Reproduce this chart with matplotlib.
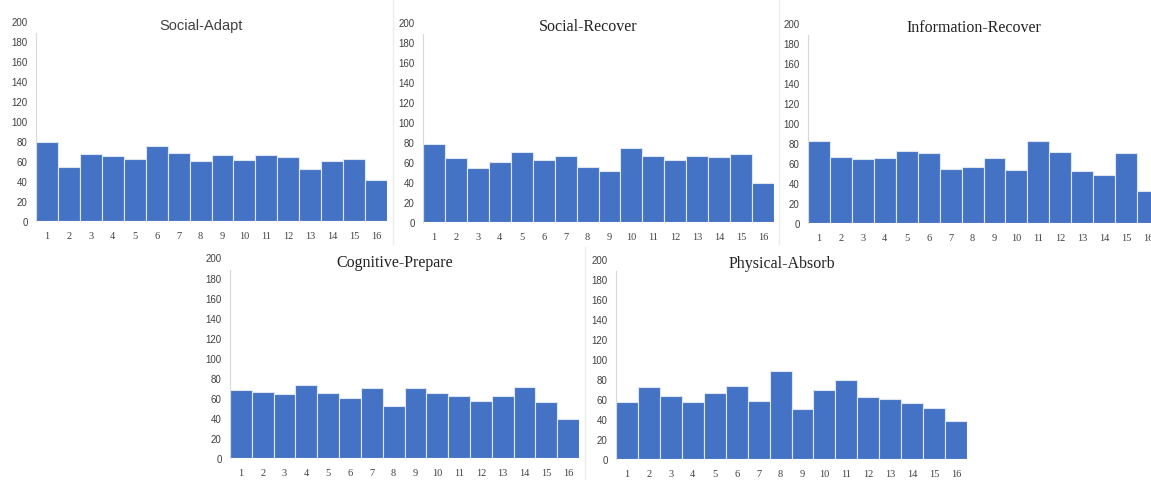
import numpy as np
import matplotlib
matplotlib.use('Agg')
import matplotlib.pyplot as plt
from matplotlib.lines import Line2D

# categories on the x axis
CATEGORIES = list(range(1, 17))

# bar heights
SOCIAL_ADAPT = [79, 54, 67, 65, 62, 75, 68, 60, 66, 61, 66, 64, 52, 60, 62, 41]
SOCIAL_RECOVER = [78, 64, 54, 60, 70, 62, 66, 55, 51, 74, 66, 62, 66, 65, 68, 39]
INFO_RECOVER = [82, 66, 64, 65, 72, 70, 54, 56, 65, 53, 82, 71, 52, 48, 70, 32]
COGNITIVE_PREPARE = [68, 66, 64, 73, 65, 60, 70, 52, 70, 65, 62, 57, 62, 71, 56, 39]
PHYSICAL_ABSORB = [57, 72, 63, 57, 66, 73, 58, 88, 50, 69, 79, 62, 60, 56, 51, 38]

TITLES = ['Social-Adapt', 'Social-Recover', 'Information-Recover',
          'Cognitive-Prepare', 'Physical-Absorb']
SERIES = [SOCIAL_ADAPT, SOCIAL_RECOVER, INFO_RECOVER,
          COGNITIVE_PREPARE, PHYSICAL_ABSORB]

BLUE = '#4472C4'
W, H = 1151, 481

# axes boxes in pixels: left, right, y of zero line
BOXES = [(36, 387, 222), (423, 774, 223), (808, 1159, 224),
         (230, 579, 459), (616, 967, 460)]


def px_box(left, right, y0):
    # convert pixel box to figure fractions, 200 units ~ 200 px
    return [left / W, 1 - y0 / H, (right - left) / W, 200.5 / H]


fig = plt.figure(figsize=(W / 100, H / 100), dpi=100)
fig.patch.set_facecolor('white')

# faint borders left over from the pasted chart images
for x in (393, 779):
    fig.add_artist(Line2D([x / W, x / W], [1 - 245 / H, 1], color='#ececec',
                          linewidth=1))
fig.add_artist(Line2D([585 / W, 585 / W], [0, 1 - 248 / H], color='#ececec',
                      linewidth=1))

for i, (title, vals) in enumerate(zip(TITLES, SERIES)):
    left, right, y0 = BOXES[i]
    ax = fig.add_axes(px_box(left, right, y0))
    ax.bar(CATEGORIES, vals, width=1.0, color=BLUE,
           edgecolor='#dfe6f3', linewidth=0.8)
    ax.set_xlim(0.5, 16.5)
    ax.set_ylim(0, 200)
    ax.set_yticks(np.arange(0, 201, 20))
    ax.set_xticks(CATEGORIES)
    ax.set_xticklabels([str(c) for c in CATEGORIES],
                       family='Liberation Serif', fontsize=7.5, color='#404040')
    for lab in ax.get_yticklabels():
        lab.set_family('Liberation Sans')
        lab.set_fontsize(7)
        lab.set_color('#404040')
    ax.tick_params(axis='both', length=0)
    ax.tick_params(axis='x', pad=7)
    ax.tick_params(axis='y', pad=6)
    for s in ['top', 'right', 'bottom']:
        ax.spines[s].set_visible(False)
    ax.spines['left'].set_color('#d9d9d9')
    ax.spines['left'].set_linewidth(0.8)
    ax.spines['left'].set_bounds(0, 188)

    # title sits a little left of the plot centre
    cx = (left + right) / 2 - 10
    ty = y0 - 196
    if i == 0:
        fig.text(cx / W, 1 - ty / H, title, ha='center', va='center',
                 family='Liberation Sans', fontsize=10.5, color='#404040')
    else:
        fig.text(cx / W, 1 - ty / H, title, ha='center', va='center',
                 family='Liberation Serif', fontsize=11.5, color='#222222')

fig.savefig('out.png', dpi=100, facecolor='white')
